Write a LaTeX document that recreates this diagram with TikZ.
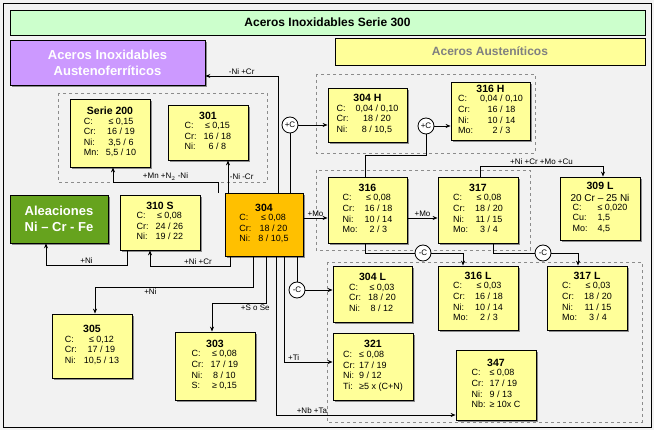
\documentclass[tikz,border=0pt]{standalone}
\usepackage{fontspec}
\setmainfont{Liberation Sans}
\usetikzlibrary{shadows,arrows.meta}
\definecolor{bg}{HTML}{F2F2F2}
\definecolor{ybox}{HTML}{FFFF99}
\definecolor{obox}{HTML}{FFC000}
\definecolor{tgreen}{HTML}{CCFFCC}
\definecolor{purp}{HTML}{CC99FF}
\definecolor{agreen}{HTML}{66A31E}
\tikzset{
 sbox/.style={draw=black,line width=0.8pt,fill=ybox,drop shadow={shadow xshift=2pt,shadow yshift=-2pt,fill=black!45,opacity=1},inner sep=0pt,align=center,font=\fontsize{9}{10.6}\selectfont},
 grp/.style={draw=black!45,dashed,line width=0.5pt},
 con/.style={line width=0.8pt},
 arr/.style={con,-{Stealth[length=5pt,width=4pt]}},
 cc/.style={circle,draw,fill=white,line width=0.8pt,inner sep=0pt,minimum size=16pt,font=\fontsize{8}{9}\selectfont},
 lab/.style={font=\fontsize{8}{9}\selectfont,inner sep=1.5pt},
 hd/.style={font=\bfseries\fontsize{13}{16}\selectfont,text=white,align=center}
}
\newcommand{\stl}[2]{\textbf{\fontsize{10.5}{12}\selectfont #1}\\[1pt]\begin{tabular}{@{}l@{\hspace{7pt}}c@{}}#2\end{tabular}}
\begin{document}
\begin{tikzpicture}[x=1pt,y=-1pt]
\useasboundingbox (0,0) rectangle (654,430);
\fill[bg] (0,0) rectangle (654,430);
\draw[line width=0.8pt] (3,3) rectangle (651,427);
% title
\node[draw,fill=tgreen,line width=0.6pt,minimum width=635pt,minimum height=25pt,font=\bfseries\fontsize{12}{14}\selectfont] (title) at (327.5,22.5) {Aceros Inoxidables Serie 300};
\node[draw,fill=purp,line width=0.6pt,minimum width=195pt,minimum height=45pt,drop shadow={shadow xshift=2pt,shadow yshift=-2pt,fill=black!45,opacity=1},hd] (aust) at (107.5,62.5) {Aceros Inoxidables\\Austenoferríticos};
\node[draw,fill=ybox,line width=0.6pt,minimum width=310pt,minimum height=27pt,font=\bfseries\fontsize{12}{14}\selectfont,text=black!50] (aaus) at (490,51.5) {Aceros Austeníticos};
\node[draw,fill=agreen,line width=0.6pt,minimum width=98pt,minimum height=48pt,drop shadow={shadow xshift=2pt,shadow yshift=-2pt,fill=black!45,opacity=1},hd] (ale) at (59,219) {Aleaciones\\Ni – Cr - Fe};
% groups
\draw[grp] (58,93) rectangle (267,182);
\draw[grp] (316,74) rectangle (535,153);
\draw[grp] (316,170) rectangle (530,250);
\draw[grp] (327,262) rectangle (642,422);
% boxes
\node[sbox,minimum width=80pt,minimum height=68pt] (s200) at (110,133) {\stl{Serie 200}{C:&≤ 0,15\\Cr:&16 / 19\\Ni:&3,5 / 6\\Mn:&5,5 / 10}};
\node[sbox,minimum width=80pt,minimum height=55pt] (s301) at (208,132.5) {\stl{301}{C:&≤ 0,15\\Cr:&16 / 18\\Ni:&6 / 8}};
\node[sbox,minimum width=79pt,minimum height=54pt] (s304h) at (367.5,115) {\stl{304 H}{C:&0,04 / 0,10\\Cr:&18 / 20\\Ni:&8 / 10,5}};
\node[sbox,minimum width=79pt,minimum height=58pt] (s316h) at (490.5,111) {\stl{316 H}{C:&0,04 / 0,10\\Cr:&16 / 18\\Ni:&10 / 14\\Mo:&2 / 3}};
\node[sbox,minimum width=79pt,minimum height=66pt] (s316) at (367.5,210) {\stl{316}{C:&≤ 0,08\\Cr:&16 / 18\\Ni:&10 / 14\\Mo:&2 / 3}};
\node[sbox,minimum width=80pt,minimum height=66pt] (s317) at (478,210) {\stl{317}{C:&≤ 0,08\\Cr:&18 / 20\\Ni:&11 / 15\\Mo:&3 / 4}};
\node[sbox,minimum width=80pt,minimum height=63pt] (s309) at (600,208.5) {\textbf{\fontsize{10.5}{12}\selectfont 309 L}\\[1pt]{\fontsize{10}{12}\selectfont 20 Cr – 25 Ni}\\\begin{tabular}{@{}l@{\hspace{10pt}}l@{}}C:&≤ 0,020\\Cu:&1,5\\Mo:&4,5\end{tabular}};
\node[sbox,fill=obox,minimum width=78pt,minimum height=63pt] (s304) at (264,224.5) {\stl{304}{C:&≤ 0,08\\Cr:&18 / 20\\Ni:&8 / 10,5}};
\node[sbox,minimum width=80pt,minimum height=55pt] (s310) at (160,222.5) {\stl{310 S}{C:&≤ 0,08\\Cr:&24 / 26\\Ni:&19 / 22}};
\node[sbox,minimum width=79pt,minimum height=56pt] (s304l) at (372.5,294) {\stl{304 L}{C:&≤ 0,03\\Cr:&18 / 20\\Ni:&8 / 12}};
\node[sbox,minimum width=80pt,minimum height=64pt] (s316l) at (478,298) {\stl{316 L}{C:&≤ 0,03\\Cr:&16 / 18\\Ni:&10 / 14\\Mo:&2 / 3}};
\node[sbox,minimum width=80pt,minimum height=64pt] (s317l) at (587,298) {\stl{317 L}{C:&≤ 0,03\\Cr:&18 / 20\\Ni:&11 / 15\\Mo:&3 / 4}};
\node[sbox,minimum width=80pt,minimum height=67pt] (s321) at (373,366.5) {\textbf{\fontsize{10.5}{12}\selectfont 321}\\[1pt]\begin{tabular}{@{}l@{\hspace{4pt}}l@{}}C:&≤ 0,08\\Cr:&17 / 19\\Ni:&9 / 12\\Ti:&≥5 x (C+N)\end{tabular}};
\node[sbox,minimum width=80pt,minimum height=70pt] (s347) at (496,385) {\textbf{\fontsize{10.5}{12}\selectfont 347}\\[1pt]\begin{tabular}{@{}l@{\hspace{4pt}}l@{}}C:&≤ 0,08\\Cr:&17 / 19\\Ni:&9 / 13\\Nb:&≥ 10x C\end{tabular}};
\node[sbox,minimum width=80pt,minimum height=64pt] (s305) at (92,346) {\stl{305}{C:&≤ 0,12\\Cr:&17 / 19\\Ni:&10,5 / 13}};
\node[sbox,minimum width=80pt,minimum height=68pt] (s303) at (215,366) {\stl{303}{C:&≤ 0,08\\Cr:&17 / 19\\Ni:&8 / 10\\S:&≥ 0,15}};
% circles
\node[cc] (c1) at (290,125) {+C};
\node[cc] (c2) at (426,126) {+C};
\node[cc] (c3) at (297,290) {-C};
\node[cc] (c4) at (423,253) {-C};
\node[cc] (c5) at (543,253) {-C};
% connectors
\draw[arr] (s304.north -| 278,0) |- (aust.east |- 0,76) node[lab,pos=0.75,above] {-Ni +Cr};
\draw[arr] (s304.north -| 218,0) |- (113,182) node[lab,pos=0.75,above] {+Mn +N$_2$ -Ni} -- (s200.south -| 113,0);
\draw[arr] (s304.north -| 228,0) -- (s301.south -| 228,0) node[lab,pos=0.5,right] {-Ni -Cr};
\draw[con] (s304.north -| c1) -- (c1);
\draw[arr] (c1) -- (s304h.west |- c1);
\draw[con] (s316.north -| 365,0) |- (426,155) -- (c2);
\draw[arr] (c2) -- (s316h.west |- c2);
\draw[arr] (s304.east |- 0,218) -- (s316.west |- 0,218) node[lab,midway,above] {+Mo};
\draw[arr] (s316.east |- 0,218) -- (s317.west |- 0,218) node[lab,midway,above] {+Mo};
\draw[arr] (s317.north -| 480,0) |- (603,166) node[lab,pos=0.75,above] {+Ni +Cr +Mo +Cu} -- (s309.north -| 603,0);
\draw[con] (s316.south -| 365,0) |- (c4);
\draw[arr] (c4) -| (s316l.north -| 463,0);
\draw[con] (s317.south -| 493,0) |- (c5);
\draw[arr] (c5) -| (s317l.north -| 578,0);
\draw[con] (s304.south -| c3) -- (c3);
\draw[arr] (c3) -- (s304l.west |- c3);
\draw[arr] (s304.south -| 253,0) |- (95,287) node[lab,pos=0.85,below right] {+Ni} -- (s305.north -| 95,0);
\draw[arr] (s304.south -| 266,0) |- (212,303) node[lab,pos=0.6,below] {+S o Se} -- (s303.north -| 212,0);
\draw[arr] (s304.south -| 284,0) |- (s321.west |- 0,362) node[lab,pos=0.6,above] {+Ti};
\draw[arr] (s304.south -| 276,0) |- (s347.west |- 0,415) node[lab,pos=0.6,above] {+Nb +Ta};
\draw[arr] (s310.south -| 127,0) |- (46,265) node[lab,pos=0.75,above] {+Ni} -- (ale.south -| 46,0);
\draw[arr] (s304.south -| 230,0) |- (150,266) node[lab,pos=0.7,above] {+Ni +Cr} -- (s310.south -| 150,0);
\end{tikzpicture}
\end{document}
